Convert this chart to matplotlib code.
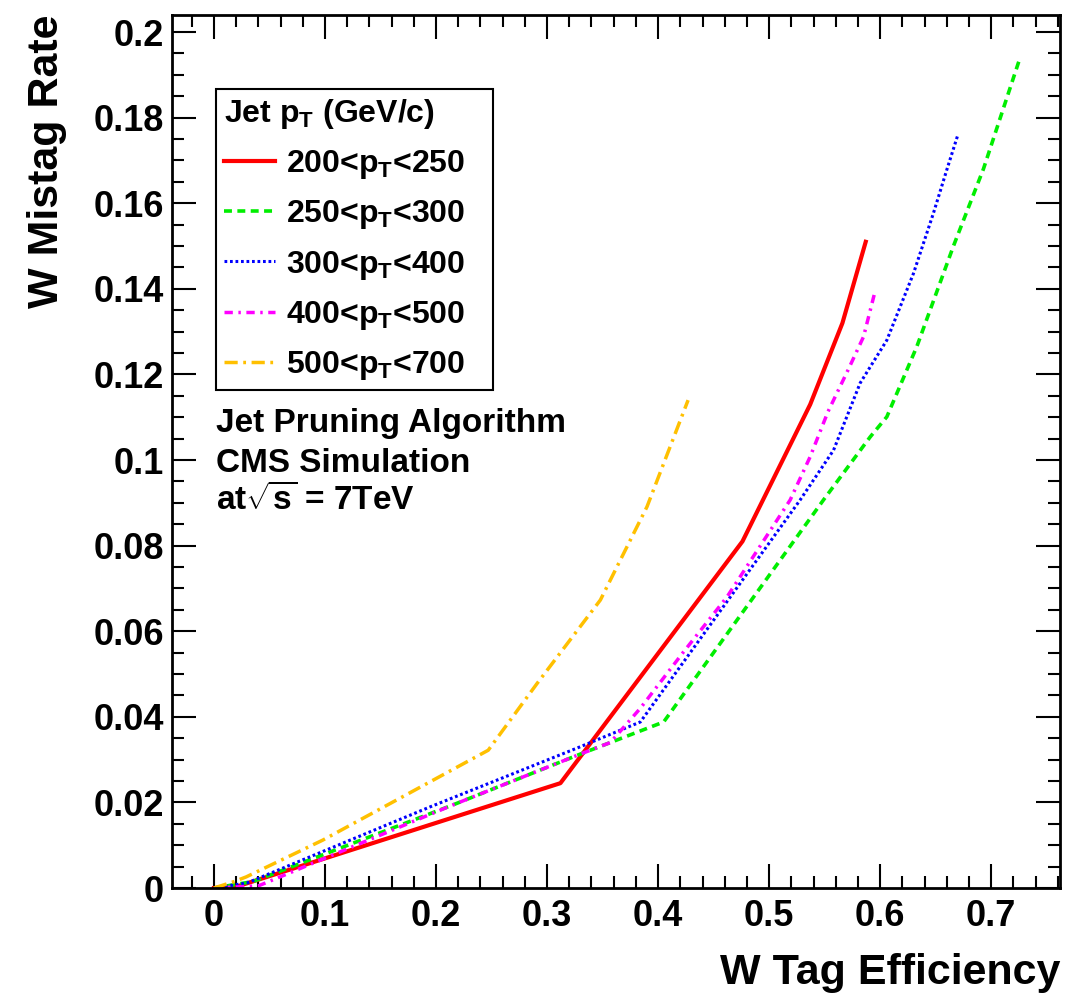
import matplotlib
matplotlib.use("Agg")
from matplotlib import pyplot as plt
from matplotlib.ticker import MultipleLocator

plt.rcParams['font.family'] = ['Liberation Sans', 'DejaVu Sans']
plt.rcParams['font.weight'] = 'bold'
plt.rcParams['axes.labelweight'] = 'bold'
plt.rcParams['mathtext.fontset'] = 'custom'
plt.rcParams['mathtext.default'] = 'bf'
plt.rcParams['mathtext.bf'] = 'Liberation Sans:bold'
plt.rcParams['mathtext.rm'] = 'Liberation Sans:bold'

# W tag efficiency vs. mistag rate, one curve per jet pT bin
eff_200_250 = [0.0, 0.02, 0.312, 0.476, 0.537, 0.566, 0.587]
mis_200_250 = [0.0, 0.0003, 0.0245, 0.081, 0.113, 0.132, 0.151]

eff_250_300 = [0.0, 0.035, 0.215, 0.327, 0.405, 0.549, 0.591, 0.606, 0.633, 0.666, 0.693, 0.726]
mis_250_300 = [0.0, 0.0015, 0.0194, 0.031, 0.0388, 0.0907, 0.1054, 0.1101, 0.1265, 0.150, 0.168, 0.194]

eff_300_400 = [0.0, 0.03, 0.195, 0.327, 0.384, 0.528, 0.558, 0.582, 0.606, 0.630, 0.648, 0.660, 0.670]
mis_300_400 = [0.0, 0.0012, 0.019, 0.0327, 0.0388, 0.0907, 0.1023, 0.118, 0.128, 0.1436, 0.1577, 0.1678, 0.176]

eff_400_500 = [0.0, 0.04, 0.215, 0.327, 0.357, 0.384, 0.423, 0.462, 0.519, 0.537, 0.553, 0.571, 0.585, 0.595]
mis_400_500 = [0.0, 0.0005, 0.0194, 0.031, 0.034, 0.042, 0.0552, 0.068, 0.0907, 0.1008, 0.1113, 0.121, 0.1288, 0.139]

eff_500_700 = [0.0, 0.018, 0.029, 0.098, 0.247, 0.291, 0.348, 0.390, 0.427]
mis_500_700 = [0.0, 0.0015, 0.0026, 0.0112, 0.0322, 0.0478, 0.0673, 0.0891, 0.114]

labels = ['200<$p_T$<250', '250<$p_T$<300', '300<$p_T$<400', '400<$p_T$<500', '500<$p_T$<700']

fig = plt.figure(figsize=(10.91, 9.98), dpi=100)
ax = fig.add_axes([0.1577, 0.1102, 0.8139, 0.8748])

ax.plot(eff_200_250, mis_200_250, color='#ff0000', lw=3.0, ls='-', label=labels[0])
ax.plot(eff_250_300, mis_250_300, color='#00ee00', lw=2.6, ls=(0, (2.2, 1.5)), label=labels[1])
ax.plot(eff_300_400, mis_300_400, color='#0000ff', lw=2.2, ls=(0, (0.9, 0.9)), label=labels[2])
ax.plot(eff_400_500, mis_400_500, color='#ff00ff', lw=2.5, ls=(0, (2.4, 1.6, 0.7, 1.6)), label=labels[3])
ax.plot(eff_500_700, mis_500_700, color='#ffc000', lw=2.5, ls=(0, (3.8, 1.6, 0.8, 1.6)), label=labels[4])

ax.set_xlim(-0.0378, 0.762)
ax.set_ylim(0, 0.204)

ax.xaxis.set_minor_locator(MultipleLocator(0.02))
ax.yaxis.set_minor_locator(MultipleLocator(0.005))
ax.set_xticks([0, 0.1, 0.2, 0.3, 0.4, 0.5, 0.6, 0.7])
ax.set_xticklabels(['0', '0.1', '0.2', '0.3', '0.4', '0.5', '0.6', '0.7'])
ax.set_yticks([0, 0.02, 0.04, 0.06, 0.08, 0.1, 0.12, 0.14, 0.16, 0.18, 0.2])
ax.set_yticklabels(['0', '0.02', '0.04', '0.06', '0.08', '0.1', '0.12', '0.14', '0.16', '0.18', '0.2'])
ax.tick_params(which='both', direction='in', top=True, right=True, width=1.5, labelsize=26)
ax.tick_params(which='major', length=17)
ax.tick_params(which='minor', length=8.5)
ax.tick_params(axis='x', which='major', pad=8)
ax.tick_params(axis='y', which='major', pad=6)
for s in ax.spines.values():
    s.set_linewidth(2.0)

ax.set_xlabel('W Tag Efficiency', fontsize=31, fontweight='bold', loc='right')
ax.xaxis.set_label_coords(1.0, -0.075)
ax.set_ylabel('W Mistag Rate', fontsize=31, fontweight='bold', loc='top')
ax.yaxis.set_label_coords(-0.118, 1.0)

leg = ax.legend(loc='upper left', bbox_to_anchor=(0.0495, 0.5, 0.312, 0.415), mode='expand',
                borderaxespad=0, title='Jet $p_T$ (GeV/c)', fontsize=23, title_fontsize=23,
                handlelength=1.6, handletextpad=0.35, labelspacing=0.54,
                borderpad=0.24, fancybox=False, framealpha=1, edgecolor='black',
                alignment='left')
leg.get_frame().set_linewidth(1.5)

ax.text(0.049, 0.522, 'Jet Pruning Algorithm', transform=ax.transAxes, fontsize=24, va='baseline')
ax.text(0.049, 0.477, 'CMS Simulation', transform=ax.transAxes, fontsize=24, va='baseline')
ax.text(0.049, 0.433, r'at$\sqrt{s}$ = 7TeV', transform=ax.transAxes, fontsize=24, va='baseline')

fig.savefig('out.png', dpi=100)
